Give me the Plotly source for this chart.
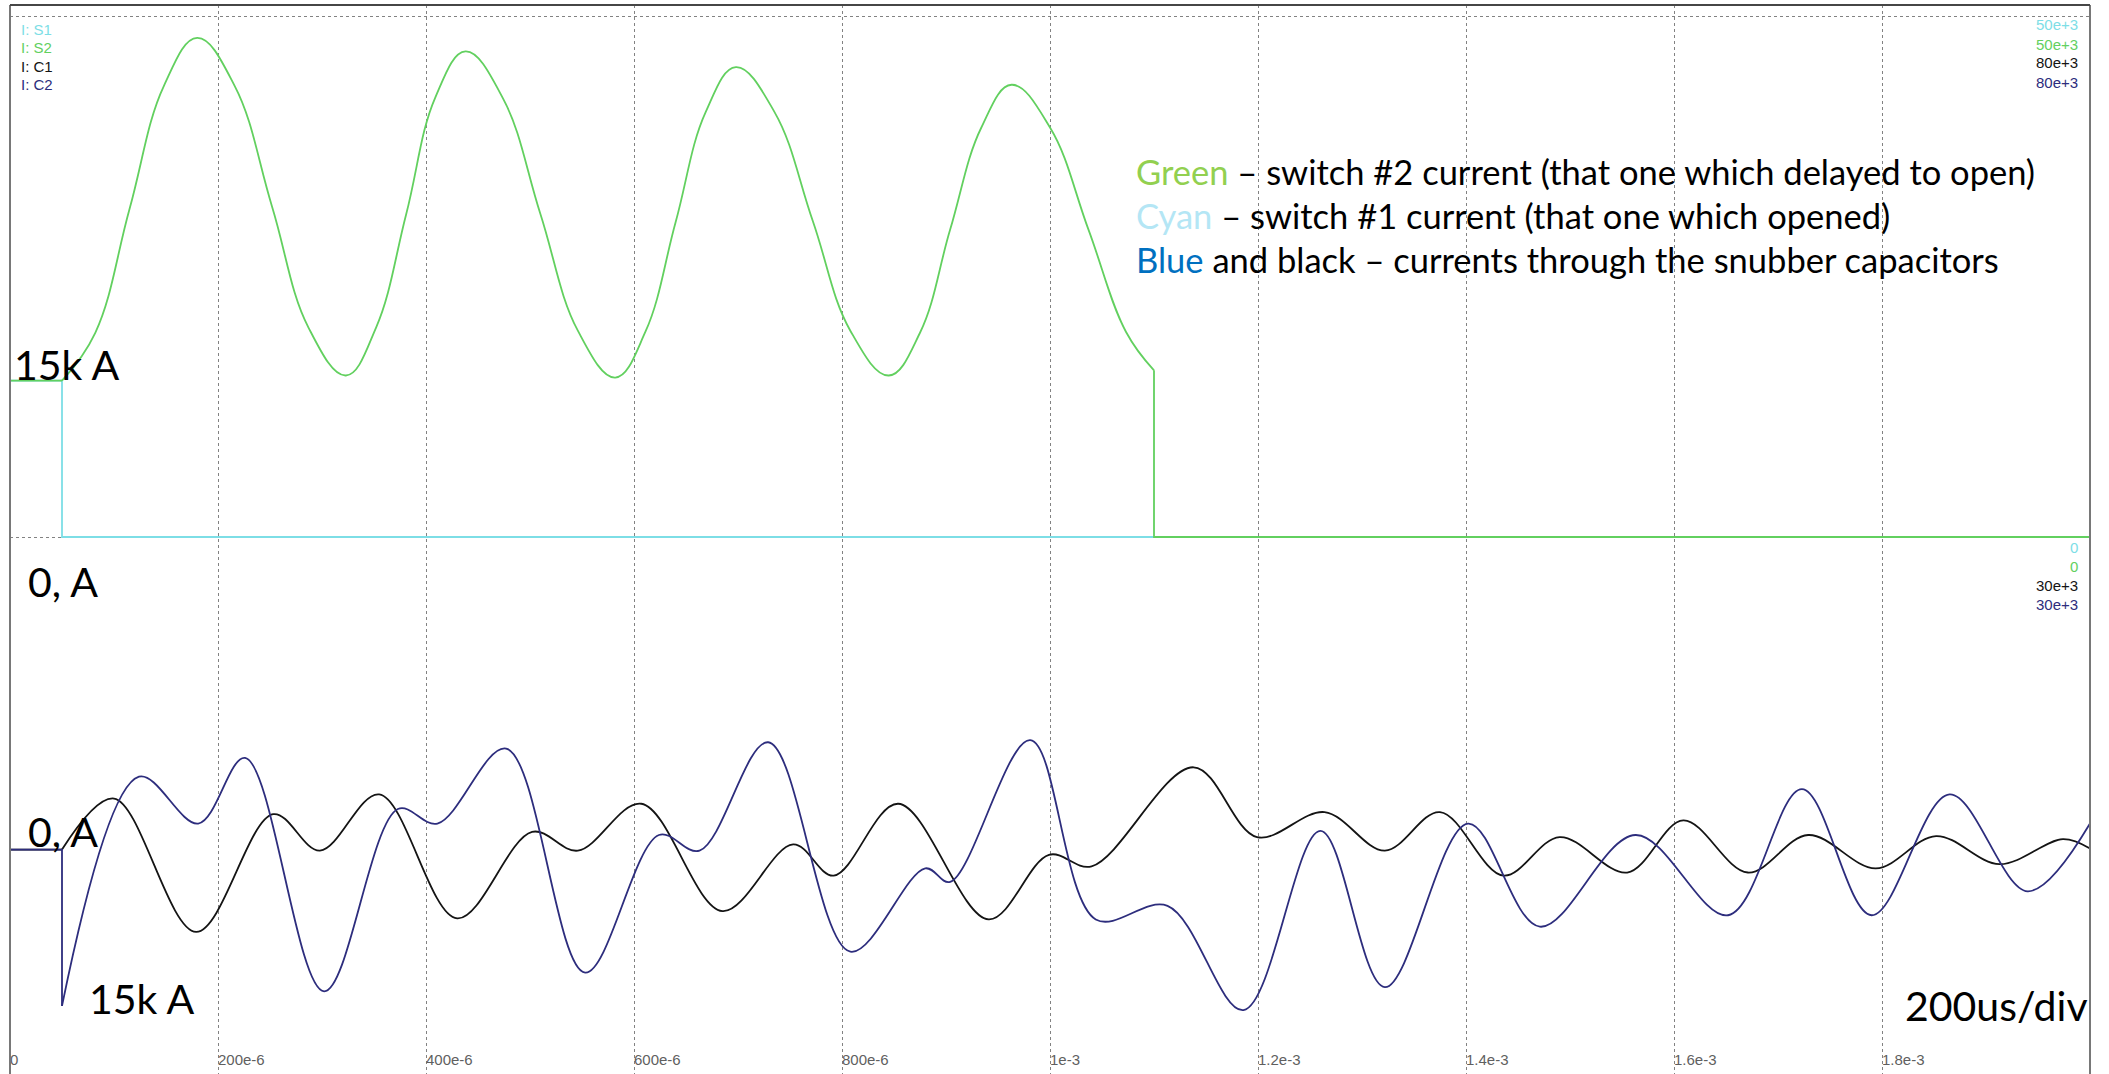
import plotly.graph_objects as go

# ---------------- data (time in microseconds, currents in A) ----------------
tick_vals = [0, 200, 400, 600, 800, 1000, 1200, 1400, 1600, 1800]
tick_text = ["0", "200e-6", "400e-6", "600e-6", "800e-6", "1e-3", "1.2e-3", "1.4e-3", "1.6e-3", "1.8e-3"]

# I: S1 (cyan) - switch #1 current
s1_t = [0, 50, 50, 2000]
s1_i = [15000, 15000, 0, 0]

# I: S2 (green) - switch #2 current
s2_t = [0, 50, 82, 115, 148, 180, 216, 252, 287, 323, 352, 381, 409, 438, 474, 510, 546, 582,
        611, 640, 669, 698, 735, 772, 808, 845, 875, 904, 934, 963, 1000, 1037, 1073, 1100, 1100, 2000]
s2_i = [15000, 15000, 19600, 31500, 43300, 47900, 43300, 31700, 20100, 15500, 20100, 31000,
        42200, 46600, 42100, 31000, 19800, 15300, 19700, 30200, 40800, 45100, 40800, 30300, 19800, 15500,
        19600, 29500, 39300, 43400, 39300, 29500, 19700, 16000, 0, 0]

# I: C1 (black) - snubber capacitor current
c1_t = [0, 50, 100, 179, 253, 298, 355, 430, 502, 546, 607, 685, 753, 792, 854, 941, 999, 1040, 1138,
        1199, 1264, 1322, 1375, 1436, 1490, 1555, 1609, 1671, 1729, 1794, 1852, 1913, 1974, 2000]
c1_i = [0, 0, 4900, -7900, 3400, -100, 5300, -6600, 1700, -100, 4400, -5900, 500, -2500, 4400, -6700,
        -500, -1600, 7900, 1200, 3600, -100, 3600, -2500, 1200, -2200, 2800, -2200, 1400, -1800, 1300,
        -1400, 1000, 100]

# I: C2 (dark blue) - snubber capacitor current
c2_t = [0, 50, 50, 124, 181, 226, 302, 373, 411, 477, 553, 624, 663, 729, 808, 880, 904, 981, 1044, 1113,
        1186, 1260, 1322, 1402, 1471, 1563, 1652, 1723, 1790, 1865, 1940, 2000]
c2_i = [0, 0, -15000, 7000, 2500, 8800, -13600, 3900, 2500, 9700, -11800, 1400, -100, 10300, -9800, -1800,
        -3100, 10500, -6700, -5400, -15400, 1800, -13200, 2500, -7400, 1400, -6300, 5800, -6300, 5300,
        -4000, 2500]

# ---------------- geometry helpers (pixel -> paper) ----------------
W, H = 2109, 1074
L, R, T, B = 10, 19, 5, 0
PW, PH = W - L - R, H - T - B


def px(x):
    return (x - L) / PW


def py(y):
    return 1 - (y - T) / PH


# y scale: 50k at y=16, -50k at y=1058
k = (1058 - 16) / 100000.0
s_top = 50000 + (16 - T) / k
s_bot = -50000 - (H - 1058) / k
C_OFF = 30000

GREEN = "rgb(98,208,95)"
CYAN = "rgb(125,222,230)"
NAVY = "rgb(45,45,125)"
BLACK = "rgb(20,20,20)"

fig = go.Figure()


def add(t, v, color, yaxis, shape="linear", smoothing=1.0):
    fig.add_trace(go.Scatter(x=t, y=v, mode="lines", yaxis=yaxis, hoverinfo="skip",
                             line=dict(color=color, width=1.8, shape=shape, smoothing=smoothing),
                             showlegend=False))


n2 = len(s2_t)
# cyan
add(s1_t, s1_i, CYAN, "y")
# green: step parts linear, oscillation smooth
add(s2_t[0:2], s2_i[0:2], GREEN, "y")
add(s2_t[1:n2 - 2], s2_i[1:n2 - 2], GREEN, "y", "spline", 1.15)
add(s2_t[n2 - 3:], s2_i[n2 - 3:], GREEN, "y")
# black
add(c1_t[0:2], c1_i[0:2], BLACK, "y2")
add(c1_t[1:], c1_i[1:], BLACK, "y2", "spline")
# blue
add(c2_t[0:3], c2_i[0:3], NAVY, "y2")
add(c2_t[2:], c2_i[2:], NAVY, "y2", "spline")

GRID = "rgb(130,130,130)"
small = "Liberation Sans Narrow, Arial Narrow, sans-serif"

fig.update_layout(
    width=W, height=H,
    margin=dict(l=L, r=R, t=T, b=B),
    paper_bgcolor="white", plot_bgcolor="white",
    xaxis=dict(range=[0, 2000], tickvals=tick_vals, ticktext=tick_text, showgrid=True,
               gridcolor=GRID, griddash="3px,3px", gridwidth=1, zeroline=False, ticks="",
               ticklabelposition="inside right",
               tickfont=dict(family=small, size=15, color="rgb(95,95,95)")),
    yaxis=dict(range=[s_bot, s_top], tickvals=[-50000, 0, 50000], showgrid=True, gridcolor=GRID,
               griddash="3px,3px", gridwidth=1, zeroline=False, showticklabels=False, ticks=""),
    yaxis2=dict(range=[s_bot + C_OFF, s_top + C_OFF], overlaying="y", visible=False),
    shapes=[
        dict(type="line", xref="paper", yref="paper", x0=0, x1=0, y0=0, y1=1,
             line=dict(color="rgb(120,120,120)", width=2)),
        dict(type="line", xref="paper", yref="paper", x0=1, x1=1, y0=0, y1=1,
             line=dict(color="rgb(120,120,120)", width=2)),
        dict(type="line", xref="paper", yref="paper", x0=0, x1=1, y0=1, y1=1,
             line=dict(color="rgb(70,70,70)", width=2)),
    ],
)

anns = []
for txt, col, y in [("I: S1", CYAN, 29), ("I: S2", GREEN, 48), ("I: C1", BLACK, 66), ("I: C2", NAVY, 84)]:
    anns.append(dict(text=txt, x=px(19), y=py(y), xref="paper", yref="paper", xanchor="left",
                     yanchor="middle", showarrow=False, font=dict(family=small, size=15, color=col)))
for txt, col, y in [("50e+3", CYAN, 25), ("50e+3", GREEN, 44), ("80e+3", BLACK, 63), ("80e+3", NAVY, 82),
                    ("0", CYAN, 547), ("0", GREEN, 566), ("30e+3", BLACK, 585), ("30e+3", NAVY, 604)]:
    anns.append(dict(text=txt, x=px(2080), y=py(y), xref="paper", yref="paper", xanchor="right",
                     yanchor="middle", showarrow=False, font=dict(family=small, size=15, color=col)))

big = "Lato, Carlito, sans-serif"
for txt, x, y in [("15k A", 12, 364), ("0, A", 26, 581), ("0, A", 26, 831), ("15k A", 87, 998),
                  ("200us/div", 1903, 1005)]:
    anns.append(dict(text=txt, x=px(x), y=py(y), xref="paper", yref="paper", xanchor="left",
                     yanchor="middle", showarrow=False, font=dict(family=big, size=41, color="black")))

lines = [
    ('<span style="color:#92D050">Green</span> \u2013 switch #2 current (that one which delayed to open)', 172),
    ('<span style="color:#B4E6F5">Cyan</span> \u2013 switch #1 current (that one which opened)', 216),
    ('<span style="color:#0070C0">Blue</span> and black \u2013 currents through the snubber capacitors', 260),
]
for txt, y in lines:
    anns.append(dict(text=txt, x=px(1134), y=py(y), xref="paper", yref="paper", xanchor="left",
                     yanchor="middle", showarrow=False, font=dict(family=big, size=34.5, color="black")))

fig.update_layout(annotations=anns)
fig.write_html("out.html")
